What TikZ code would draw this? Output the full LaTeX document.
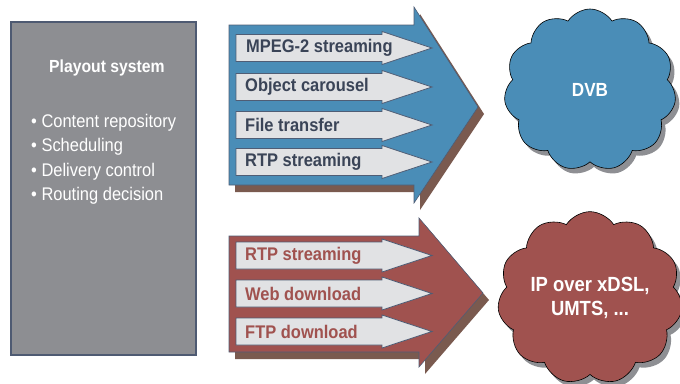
\documentclass[tikz,border=0pt]{standalone}
\usepackage{fontspec}
\setmainfont{Liberation Sans}[FakeStretch=0.9]
\usetikzlibrary{shapes.symbols,shadows}

\definecolor{boxgray}{HTML}{8D8E92}
\definecolor{boxedge}{HTML}{4E5A72}
\definecolor{dvbblue}{HTML}{4A8DB7}
\definecolor{ipred}{HTML}{A0524F}
\definecolor{brownshadow}{HTML}{7A5A4F}
\definecolor{lightgray}{HTML}{E1E2E4}
\definecolor{slate}{HTML}{4F5D75}
\definecolor{navytext}{HTML}{3A4457}
\definecolor{cloudshadow}{HTML}{8E8F93}

\begin{document}
\begin{tikzpicture}[x=1pt,y=-1pt,
    bigarrow/.style={draw=slate,line width=0.6pt},
    innerarrow/.style={fill=lightgray,draw=slate,line width=0.8pt},
    label/.style={anchor=west,inner sep=0pt,font=\fontsize{18.3}{20}\selectfont\bfseries},
    net/.style={cloud,cloud puffs=11,cloud puff arc=115,aspect=1.1,draw=black,line width=0.6pt,
      inner sep=0pt,minimum width=172pt,minimum height=162pt,text=white,align=center,
      drop shadow={shadow xshift=4pt,shadow yshift=-5pt,fill=cloudshadow,opacity=1}}]
\useasboundingbox (0,0) rectangle (680,383);

% playout box
\draw[fill=boxgray,draw=boxedge,line width=1.2pt] (11,22) rectangle (196,355);
\node[text=white,font=\fontsize{17.5}{20}\selectfont\bfseries] (title) at (107,68) {Playout system};
\node[text=white,anchor=north west,align=left,inner sep=0pt,
      font=\fontsize{18.3}{24.5}\selectfont] (tasks) at (31,114)
  {• Content repository\\ • Scheduling\\ • Delivery control\\ • Routing decision};

% DVB arrow
\fill[brownshadow,shift={(6,7)}] (229,25) -- (414,25) -- (414,7) -- (478,107) -- (414,203) -- (414,185) -- (229,185) -- cycle;
\draw[bigarrow,fill=dvbblue] (229,25) -- (414,25) -- (414,7) -- (478,107) -- (414,203) -- (414,185) -- (229,185) -- cycle;

\draw[innerarrow] (236,34.5) -- (382,34.5) -- (382,31.5) -- (432,48) -- (382,64.5) -- (382,61.5) -- (236,61.5) -- cycle;
\draw[innerarrow] (236,73.5) -- (382,73.5) -- (382,70.5) -- (432,87) -- (382,103.5) -- (382,100.5) -- (236,100.5) -- cycle;
\draw[innerarrow] (236,111.5) -- (382,111.5) -- (382,108.5) -- (432,125) -- (382,141.5) -- (382,138.5) -- (236,138.5) -- cycle;
\draw[innerarrow] (236,148.5) -- (382,148.5) -- (382,145.5) -- (432,162) -- (382,178.5) -- (382,175.5) -- (236,175.5) -- cycle;

\node[label,text=navytext] (mpeg) at (246,48) {MPEG-2 streaming};
\node[label,text=navytext] (carousel) at (245,87) {Object carousel};
\node[label,text=navytext] (file) at (245,125) {File transfer};
\node[label,text=navytext] (rtpdvb) at (245,162) {RTP streaming};

% IP arrow
\fill[brownshadow,shift={(6,7)}] (229,236) -- (419,236) -- (419,218) -- (483,293) -- (419,367) -- (419,352) -- (229,352) -- cycle;
\draw[bigarrow,fill=ipred] (229,236) -- (419,236) -- (419,218) -- (483,293) -- (419,367) -- (419,352) -- (229,352) -- cycle;

\draw[innerarrow] (236,242) -- (382,242) -- (382,239) -- (432,255.5) -- (382,272) -- (382,269) -- (236,269) -- cycle;
\draw[innerarrow] (236,280) -- (382,280) -- (382,277) -- (432,293.5) -- (382,310) -- (382,307) -- (236,307) -- cycle;
\draw[innerarrow] (236,318) -- (382,318) -- (382,315) -- (432,331.5) -- (382,348) -- (382,345) -- (236,345) -- cycle;

\node[label,text=ipred] (rtpip) at (245,255.5) {RTP streaming};
\node[label,text=ipred] (web) at (245,293.5) {Web download};
\node[label,text=ipred] (ftp) at (245,331.5) {FTP download};

% networks
\node[net,fill=dvbblue,font=\fontsize{19}{22}\selectfont\bfseries] (dvb) at (590,90) {DVB};
\node[net,fill=ipred,font=\fontsize{20.5}{24}\selectfont\bfseries] (ip) at (590,298) {IP over xDSL,\\UMTS, ...};
\end{tikzpicture}
\end{document}
